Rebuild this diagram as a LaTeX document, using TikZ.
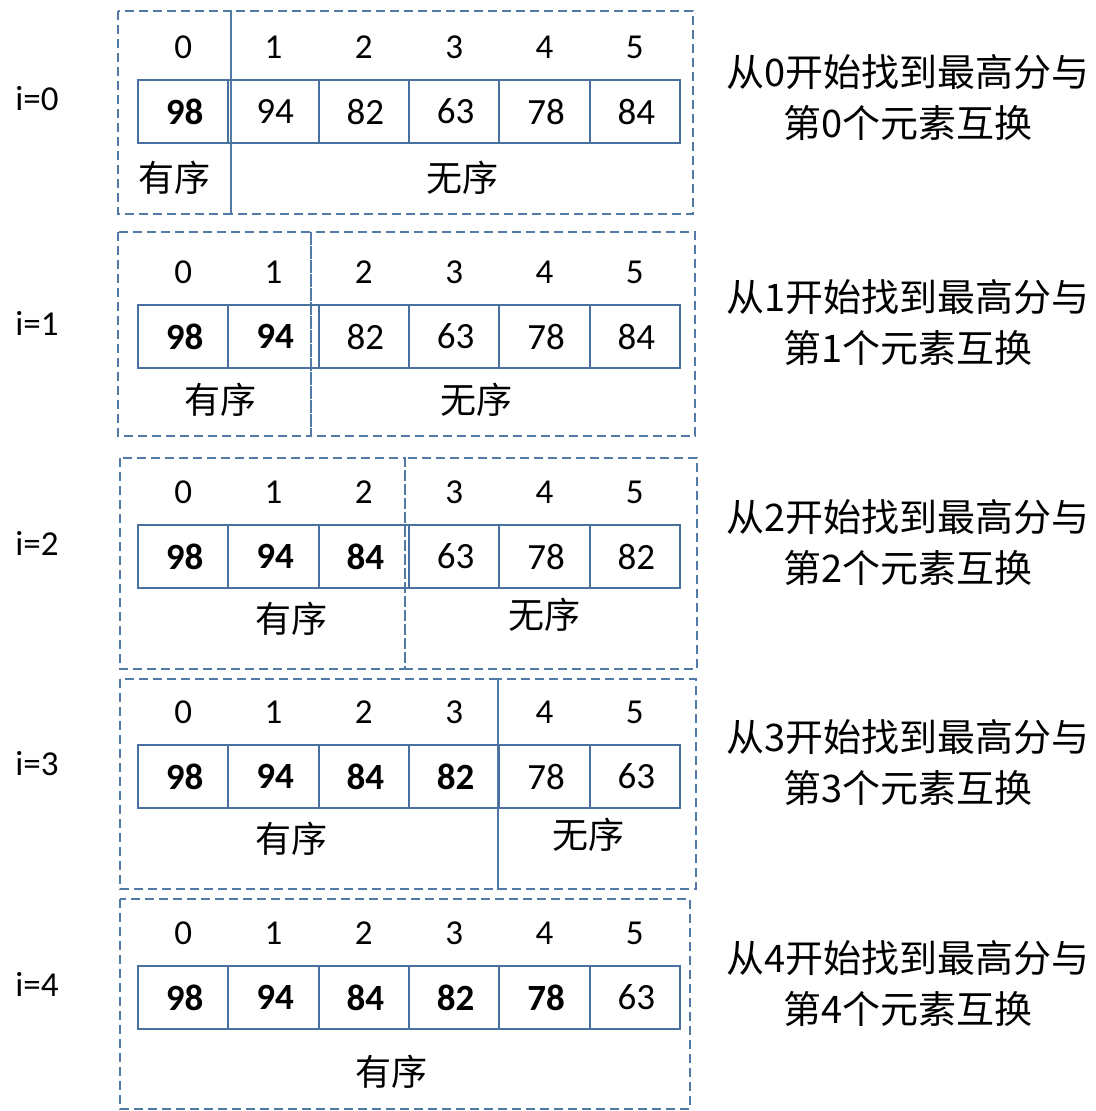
\documentclass[tikz,border=0pt]{standalone}
\usepackage{fontspec}
\setmainfont{Carlito}
\newfontfamily\cjk{Noto Sans CJK SC}
\definecolor{cellblue}{RGB}{72,113,160}
\definecolor{dashblue}{RGB}{82,122,166}
\begin{document}
\begin{tikzpicture}[x=1pt,y=-1pt,
  cellbox/.style={draw=cellblue, line width=1.8pt, minimum width=90.3pt, minimum height=63pt, inner sep=0pt, text=black, font=\fontsize{37}{37}\selectfont},
  idxlabel/.style={inner sep=0pt, font=\fontsize{35}{35}\selectfont},
  rowlabel/.style={inner sep=0pt, font=\fontsize{35}{35}\selectfont},
  cjklabel/.style={inner sep=0pt, font=\cjk\fontsize{36}{36}\selectfont},
  desc/.style={inner sep=0pt, font=\cjk\fontsize{38}{38}\selectfont},
  region/.style={draw=dashblue, line width=1.3pt, dash pattern=on 9pt off 5pt}]
\useasboundingbox (0,0) rectangle (1095,1111);
% dashed regions
\draw[region] (118,11) rectangle (231,214);
\draw[region] (231,11) rectangle (693,214);
\draw[region] (118,232) rectangle (311,436);
\draw[region] (311,232) rectangle (695,436);
\draw[region] (120,458) rectangle (405,669);
\draw[region] (405,458) rectangle (697,669);
\draw[region] (120,679) rectangle (498,889);
\draw[region] (498,679) rectangle (696,889);
\draw[region] (120,899) rectangle (690,1109);
% rows
\foreach \r/\y/\nb/\vals in {0/111.5/1/{98,94,82,63,78,84},1/336.5/2/{98,94,82,63,78,84},2/556.5/3/{98,94,84,63,78,82},3/776.5/4/{98,94,84,82,78,63},4/997.5/5/{98,94,84,82,78,63}}{
  \node[rowlabel] (i\r) at (37,\y-13) {i=\r};
  \foreach \v [count=\k from 0] in \vals {
    \pgfmathsetmacro{\cx}{183.2+90.33*\k}
    \node[cellbox] (c\r-\k) at (\cx,\y) {\hspace*{3pt}\ifnum\k<\nb\relax\bfseries\fi\v};
    \node[idxlabel] (n\r-\k) at (\cx,\y-64) {\k};
  }
  \node[desc] (d\r a) at (908,\y-39) {从\r 开始找到最高分与};
  \node[desc] (d\r b) at (908,\y+11) {第\r 个元素互换};
}
% ordered / unordered labels
\node[cjklabel] (s0) at (174,178) {有序};
\node[cjklabel] (u0) at (462,178) {无序};
\node[cjklabel] (s1) at (220,400) {有序};
\node[cjklabel] (u1) at (476,400) {无序};
\node[cjklabel] (s2) at (291,619) {有序};
\node[cjklabel] (u2) at (544,615) {无序};
\node[cjklabel] (s3) at (291,839) {有序};
\node[cjklabel] (u3) at (588,835) {无序};
\node[cjklabel] (s4) at (391,1072) {有序};
\end{tikzpicture}
\end{document}
